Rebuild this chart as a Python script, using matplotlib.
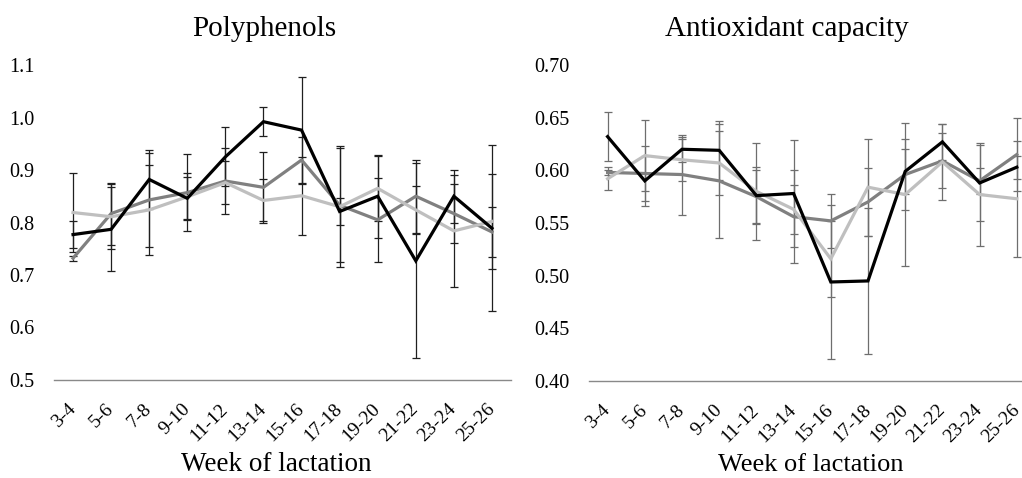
import matplotlib
matplotlib.use("Agg")
import matplotlib.pyplot as plt
from matplotlib.ticker import FormatStrFormatter
import numpy as np

plt.rcParams["font.family"] = ["Liberation Serif", "DejaVu Serif"]

weeks = ["3-4", "5-6", "7-8", "9-10", "11-12", "13-14",
         "15-16", "17-18", "19-20", "21-22", "23-24", "25-26"]

# Polyphenols: three groups (black, dark grey, light grey) with SD
poly_a = [0.777, 0.787, 0.882, 0.846, 0.925, 0.992, 0.976, 0.821, 0.850, 0.727, 0.850, 0.789]
poly_a_err = [0.025, 0.080, 0.056, 0.040, 0.056, 0.028, 0.102, 0.025, 0.079, 0.186, 0.050, 0.158]
poly_b = [0.732, 0.817, 0.843, 0.857, 0.879, 0.867, 0.919, 0.833, 0.805, 0.850, 0.817, 0.782]
poly_b_err = [0.005, 0.059, 0.090, 0.073, 0.062, 0.068, 0.043, 0.108, 0.080, 0.070, 0.056, 0.048]
poly_c = [0.819, 0.811, 0.824, 0.849, 0.876, 0.842, 0.851, 0.830, 0.865, 0.824, 0.784, 0.802]
poly_c_err = [0.075, 0.062, 0.086, 0.045, 0.041, 0.040, 0.074, 0.115, 0.062, 0.045, 0.106, 0.090]

# Antioxidant capacity: same three groups
anti_a = [0.632, 0.590, 0.620, 0.619, 0.576, 0.578, 0.494, 0.495, 0.599, 0.627, 0.588, 0.603]
anti_a_err = [0.023, 0.024, 0.012, 0.028, 0.027, 0.051, 0.073, 0.069, 0.021, 0.017, 0.036, 0.011]
anti_b = [0.598, 0.597, 0.596, 0.590, 0.575, 0.556, 0.552, 0.570, 0.596, 0.609, 0.590, 0.615]
anti_b_err = [0.002, 0.026, 0.038, 0.054, 0.025, 0.044, 0.026, 0.032, 0.034, 0.026, 0.012, 0.035]
anti_c = [0.592, 0.614, 0.610, 0.607, 0.580, 0.563, 0.516, 0.584, 0.577, 0.608, 0.577, 0.573]
anti_c_err = [0.011, 0.034, 0.020, 0.030, 0.046, 0.023, 0.036, 0.046, 0.068, 0.036, 0.049, 0.055]

line_colors = ["#000000", "#808080", "#bfbfbf"]
line_order = [4, 2, 3]

W, H = 1022, 478
fig = plt.figure(figsize=(W / 100, H / 100), dpi=100)

ax1 = fig.add_axes([54 / W, (H - 380) / H, 457 / W, (380 - 65) / H])
ax2 = fig.add_axes([589 / W, (H - 381) / H, 446.4 / W, (381 - 65) / H])


def draw_panel(ax, series, errs, ylim, yticks, fmt, ecolor):
    x = np.arange(len(weeks))
    for vals, err, col, z in zip(series, errs, line_colors, line_order):
        ax.errorbar(x, vals, yerr=err, fmt="none", ecolor=ecolor,
                    elinewidth=0.9, capsize=2.6, capthick=0.9, zorder=1)
        ax.plot(x, vals, color=col, lw=2.3, zorder=z, solid_joinstyle="miter")
    ax.set_xlim(-0.5, len(weeks) - 0.5)
    ax.set_ylim(*ylim)
    ax.set_yticks(yticks)
    ax.yaxis.set_major_formatter(FormatStrFormatter(fmt))
    ax.set_xticks(x)
    ax.set_xticklabels(weeks, rotation=45, ha="right", va="center",
                       rotation_mode="anchor", fontsize=14)
    ax.tick_params(axis="x", length=0, pad=19)
    ax.tick_params(axis="y", length=0, pad=14, labelsize=14.5)
    for s in ("top", "right", "left"):
        ax.spines[s].set_visible(False)
    ax.spines["bottom"].set_color("#898989")
    ax.spines["bottom"].set_linewidth(1.0)
    ax.patch.set_alpha(0)


draw_panel(ax1, [poly_a, poly_b, poly_c], [poly_a_err, poly_b_err, poly_c_err],
           (0.5, 1.1), np.arange(0.5, 1.11, 0.1), "%.1f", "#1f1f1f")
draw_panel(ax2, [anti_a, anti_b, anti_c], [anti_a_err, anti_b_err, anti_c_err],
           (0.40, 0.70), np.arange(0.40, 0.701, 0.05), "%.2f", "#6e6e6e")

fig.text(264 / W, 1 - 35.5 / H, "Polyphenols", ha="center", va="baseline", fontsize=21)
fig.text(787 / W, 1 - 35.5 / H, "Antioxidant capacity", ha="center", va="baseline", fontsize=21)
fig.text(276 / W, 1 - 471 / H, "Week of lactation", ha="center", va="baseline", fontsize=19.5)
fig.text(811 / W, 1 - 471 / H, "Week of lactation", ha="center", va="baseline", fontsize=19)

fig.savefig("out.png", dpi=100, facecolor="white")
